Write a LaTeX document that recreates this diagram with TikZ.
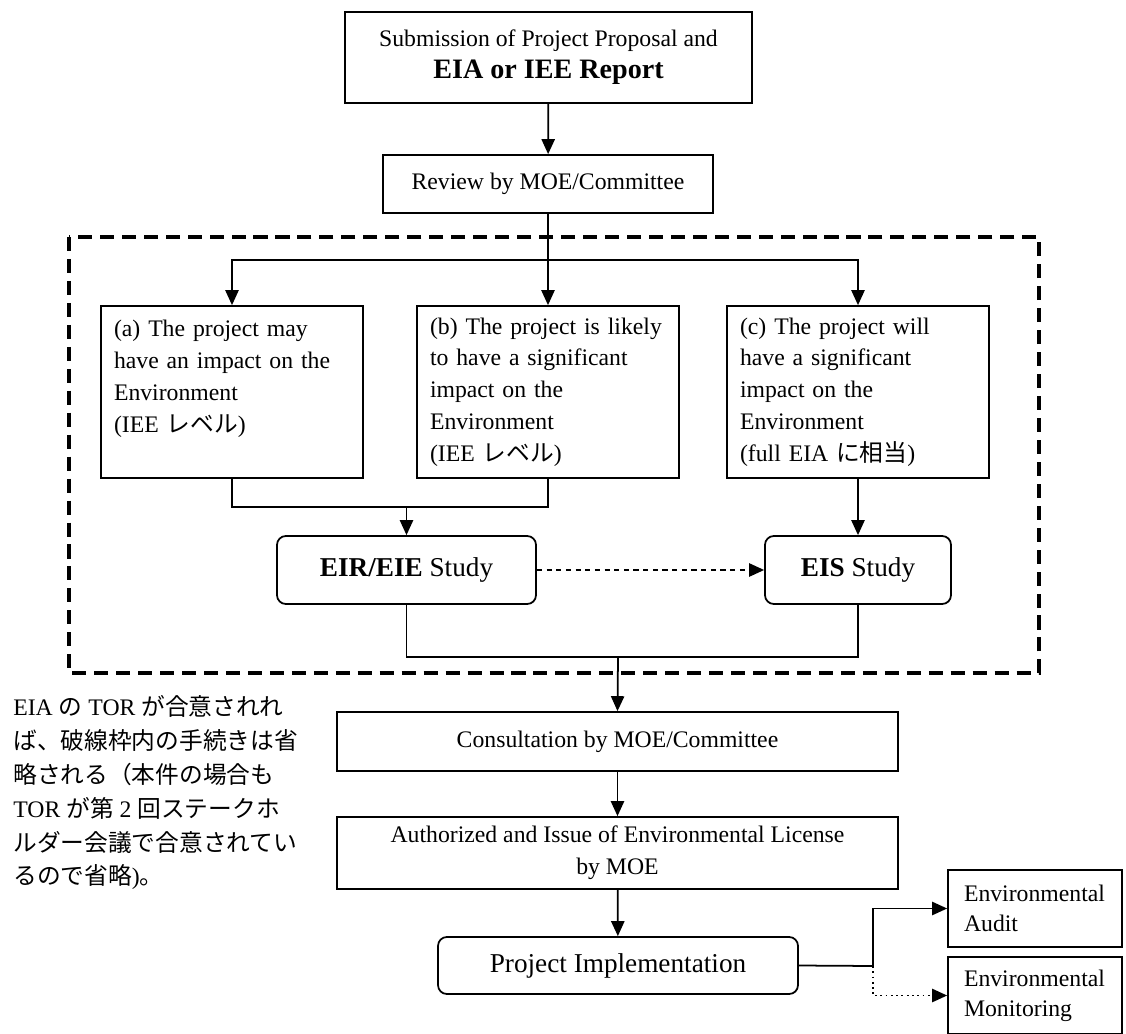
\documentclass[tikz,border=0pt]{standalone}
\usepackage{fontspec}
\setmainfont{Liberation Serif}
\newfontfamily\jpfont{Noto Sans CJK JP}
\newcommand{\jp}[1]{{\jpfont #1}}
\usetikzlibrary{arrows.meta, positioning, calc}
\tikzset{
  box/.style = {
    draw, line width=1pt, align=center, inner sep=0pt, fill=white,
    font=\fontsize{13.5}{18.1}\selectfont
  },
  casebox/.style = {box, align=left, text width=4.72cm, minimum width=5.24cm, minimum height=3.44cm},
  studybox/.style = {box, rounded corners=5pt, minimum height=1.36cm, font=\fontsize{15.5}{18}\selectfont},
  sidebox/.style = {box, align=left, text width=2.84cm, minimum width=3.48cm, minimum height=1.54cm,
    font=\fontsize{13.5}{17}\selectfont},
  link/.style = {line width=1pt},
  arrow/.style = {-{Triangle[length=8.5pt, width=7.5pt]}, line width=1pt},
  frame/.style = {line width=2pt, dash pattern=on 8pt off 4.5pt},
}

\begin{document}
\begin{tikzpicture}[x=0.02cm, y=-0.02cm]
    \useasboundingbox (0,0) rectangle (1126,1034);

    % Dashed frame round the screening steps
    \draw[frame] (69,237) rectangle (1039,673);

    % Main column
    \node[box, minimum width=8.14cm, minimum height=1.82cm] (submit) at (548.5,57.5) {Submission of Project Proposal and\\
      {\fontsize{16}{18}\selectfont\bfseries EIA or IEE Report}};
    \node[box, minimum width=6.6cm, minimum height=1.16cm] (review) at (548,184) {Review by MOE/Committee};

    % Three cases
    \node[casebox] (casea) at (232,392) {(a) The project may\\have an impact on the\\Environment\\(IEE \jp{レベル})\\\mbox{}};
    \node[casebox] (caseb) at (548,392) {(b) The project is likely\\to have a significant\\impact on the\\Environment\\(IEE \jp{レベル})};
    \node[casebox] (casec) at (858,392) {(c) The project will\\have a significant\\impact on the\\Environment\\(full EIA \jp{に相当})};

    % Studies
    \node[studybox, minimum width=5.18cm] (eir) at (406.5,570) {\textbf{EIR/EIE} Study};
    \node[studybox, minimum width=3.72cm] (eis) at (858,570) {\textbf{EIS} Study};

    \node[box, minimum width=11.22cm, minimum height=1.18cm] (consult) at (617.5,741.5) {Consultation by MOE/Committee};
    \node[box, minimum width=11.22cm, minimum height=1.44cm] (license) at (617.5,853) {Authorized and Issue of Environmental License\\by MOE};
    \node[studybox, minimum width=7.2cm, minimum height=1.14cm] (implement) at (618,965.5) {Project Implementation};

    \node[sidebox] (audit) at (1035,908.5) {Environmental\\Audit};
    \node[sidebox] (monitor) at (1035,995.5) {Environmental\\Monitoring};

    % Side note
    \node[anchor=north west, align=left, inner sep=0pt, font=\fontsize{13.5}{19.3}\selectfont] (note) at (13,695)
      {EIA \jp{の} TOR \jp{が合意されれ}\\
       \jp{ば、破線枠内の手続きは省}\\
       \jp{略される（本件の場合も}\\
       TOR \jp{が第} 2 \jp{回ステークホ}\\
       \jp{ルダー会議で合意されてい}\\
       \jp{るので省略})\jp{。}};

    % Junction points
    \coordinate (split) at (548,260);
    \coordinate (joinab) at (406.5,507);
    \coordinate (joinst) at (618,657);
    \coordinate (fork) at (873,966);

    % Connectors
    \draw[arrow] (submit) -- (review);
    \draw[link] (review.south) -- (split);
    \draw[arrow] (split) -| (casea.north);
    \draw[arrow] (split) -- (caseb.north);
    \draw[arrow] (split) -| (casec.north);

    \draw[link] (casea.south) |- (joinab) -| (caseb.south);
    \draw[arrow] (joinab) -- (eir.north);
    \draw[arrow] (casec.south) -- (eis.north);
    \draw[arrow, dash pattern=on 3pt off 2.5pt] (eir.east) -- (eis.west);

    \draw[link] (eir.south) |- (joinst) -| (eis.south);
    \draw[arrow] (joinst) -- (consult.north);
    \draw[arrow] (consult) -- (license);
    \draw[arrow] (license) -- (implement);

    \draw[link] (implement.east) -- (fork);
    \draw[arrow] (fork) |- (audit.west);
    \draw[arrow, dotted] (fork) |- (monitor.west);
\end{tikzpicture}
\end{document}
